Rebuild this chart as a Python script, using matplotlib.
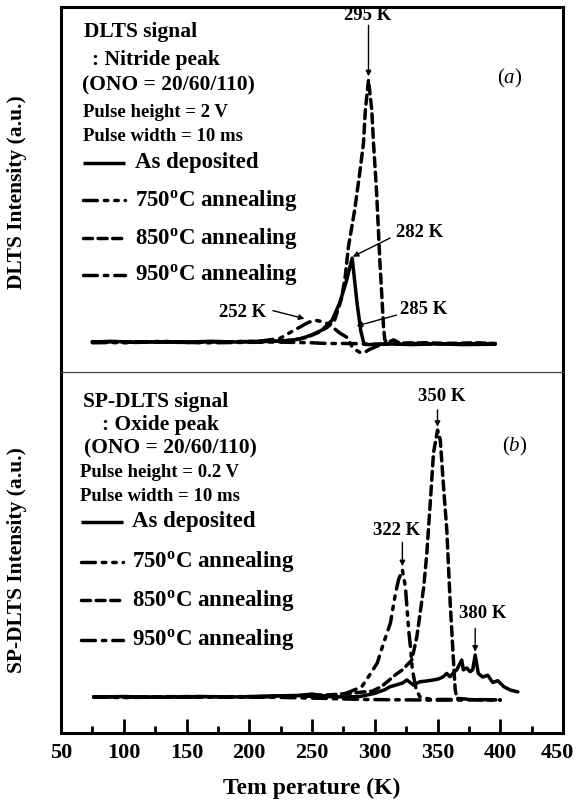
import matplotlib
matplotlib.use("Agg")
import matplotlib.pyplot as plt
import matplotlib.transforms as mtransforms
from matplotlib.ticker import MultipleLocator

plt.rcParams['font.family'] = ['Liberation Serif', 'DejaVu Serif']
plt.rcParams['mathtext.fontset'] = 'custom'
plt.rcParams['mathtext.rm'] = 'Liberation Serif:bold'
plt.rcParams['mathtext.bf'] = 'Liberation Serif:bold'
plt.rcParams['mathtext.it'] = 'Liberation Serif:italic'

# ---------------- (a) DLTS, nitride peak ----------------
t_a_dep = [75, 90, 110, 130, 150, 170, 190, 210, 225, 235, 240, 250, 258, 266, 272, 277, 282,
           286, 289, 291.5, 295, 310, 330, 350, 370, 396]
v_a_dep = [8.2, 8.4, 8.1, 8.3, 8.2, 8.4, 8.2, 8.3, 8.5, 8.8, 9.0, 10.2, 11.5, 14.2, 18.9, 24.4, 31.2,
           18.5, 11.0, 7.6, 7.5, 7.7, 7.5, 7.7, 7.5, 7.6]

t_a_750 = [75, 100, 130, 160, 190, 210, 224.5, 235, 240.4, 246, 252, 258, 262, 266, 272, 278.7,
           281.6, 285, 289, 292, 296, 300, 305, 320, 340, 360, 380, 396]
v_a_750 = [8.3, 8.0, 8.4, 8.1, 8.3, 8.5, 9.2, 11.3, 12.3, 13.4, 14.2, 13.8, 13.3, 12.4, 10.7, 9.3,
           7.1, 6.0, 5.2, 5.4, 6.2, 6.8, 7.5, 7.8, 7.6, 7.8, 7.6, 7.7]

t_a_850 = [75, 110, 150, 190, 230, 245, 255, 262, 268, 273.4, 276.4, 279, 284, 288, 291, 292.5, 295,
           297.6, 299, 301.5, 304, 305.5, 307, 308, 310, 315, 320, 340, 360, 380, 396]
v_a_850 = [8.2, 8.3, 8.1, 8.3, 8.5, 9.4, 10.8, 12.2, 14.2, 20.0, 26.0, 34.3, 44.4, 54.5, 62.7, 71.8, 80.0,
           71.8, 62.7, 49.0, 30.7, 21.6, 12.3, 8.8, 8.0, 8.8, 7.9, 8.0, 7.8, 8.0, 7.8]

t_a_950 = [75, 120, 170, 220, 250, 262, 280, 300, 330, 360, 396]
v_a_950 = [8.0, 8.2, 8.0, 8.2, 8.0, 7.8, 7.8, 7.6, 7.8, 7.7, 7.8]

# ---------------- (b) SP-DLTS, oxide peak ----------------
t_b_dep = [76, 100, 130, 160, 190, 220, 240, 250, 255, 262, 275, 288, 300, 308, 312, 316, 322.5,
           325.5, 330.7, 336, 341, 346.7, 351, 354.6, 357.3, 360, 363, 365.3, 369.3, 370.6, 373.3,
           376, 378, 380, 382.5, 386, 390, 394, 398, 403, 408, 414]
v_b_dep = [10.0, 10.1, 9.9, 10.1, 10.0, 10.3, 10.4, 10.8, 10.5, 10.1, 10.0, 10.1, 11.0, 12.0, 12.8,
           13.2, 13.9, 14.7, 13.3, 14.2, 14.4, 14.7, 15.0, 15.6, 16.5, 15.6, 16.8, 17.5, 20.2, 17.5,
           18.0, 17.0, 17.5, 21.6, 16.5, 15.5, 16.0, 14.0, 14.5, 12.8, 11.9, 11.4]

t_b_750 = [76, 100, 130, 160, 190, 220, 250, 260, 270, 280, 289.6, 295, 302, 307, 312.5, 316.5,
           319, 322, 324.4, 325.8, 327, 328.4, 329.7, 331, 333, 336, 345, 370, 400]
v_b_750 = [10.0, 9.8, 10.0, 9.9, 10.1, 10.0, 10.2, 10.3, 10.1, 11.4, 12.8, 15.6, 19.4, 24.9, 30.5,
           38.7, 42.5, 45.2, 40.5, 34.1, 28.5, 23.9, 18.4, 15.6, 12.0, 10.0, 9.3, 9.3, 9.2]

t_b_850 = [76, 110, 150, 200, 240, 265, 283, 298, 305, 310, 316, 322, 329.5, 333.5, 339, 341.5,
           344.2, 346.8, 350, 352.2, 354.8, 357.4, 360.1, 362.8, 364.1, 365.5, 380, 400]
v_b_850 = [10.0, 10.0, 10.1, 10.0, 10.4, 10.6, 11.1, 11.6, 12.8, 14.2, 16.0, 17.5, 20.2, 26.6,
           40.4, 49.9, 63.7, 77.6, 83.9, 81.2, 68.2, 56.2, 36.0, 19.4, 11.9, 9.6, 9.2, 9.2]

t_b_950 = [76, 120, 170, 220, 260, 290, 320, 350, 380, 400]
v_b_950 = [10.0, 9.9, 10.0, 9.9, 9.6, 9.3, 9.2, 9.1, 9.2, 9.1]

x_ticks = [50, 100, 150, 200, 250, 300, 350, 400, 450]

labels = ['As deposited', '750$^{\\mathrm{o}}$C annealing',
          '850$^{\\mathrm{o}}$C annealing', '950$^{\\mathrm{o}}$C annealing']
styles = ['-', (0, (4, 2, 1, 2, 1, 2)), (0, (2.6, 1.6)), (0, (4, 2, 1, 2))]
LW = 2.5

fig = plt.figure(figsize=(5.79, 8.02), dpi=100)
ax_a = fig.add_axes([0.1054, 0.5362, 0.8670, 0.4551])
ax_b = fig.add_axes([0.1054, 0.0860, 0.8670, 0.4502])

series_a = [(t_a_dep, v_a_dep), (t_a_750, v_a_750), (t_a_850, v_a_850), (t_a_950, v_a_950)]
series_b = [(t_b_dep, v_b_dep), (t_b_750, v_b_750), (t_b_850, v_b_850), (t_b_950, v_b_950)]

for ax, series in ((ax_a, series_a), (ax_b, series_b)):
    for (t, v), ls in zip(series, styles):
        ax.plot(t, v, color='k', lw=LW, ls=ls, solid_capstyle='round',
                dash_capstyle='round', solid_joinstyle='round')
    ax.set_xlim(50, 450)
    ax.set_ylim(0, 100)
    ax.set_yticks([])
    for s in ax.spines.values():
        s.set_linewidth(2.2)

ax_a.set_xticks([])
ax_a.spines['bottom'].set_visible(False)
ax_b.spines['top'].set_linewidth(0.9)
ax_b.spines['top'].set_color('#444444')

ax_b.set_xticks(x_ticks)
ax_b.xaxis.set_minor_locator(MultipleLocator(25))
ax_b.tick_params(axis='x', which='major', direction='in', length=10, width=2, pad=7,
                 labelsize=16, top=False)
ax_b.tick_params(axis='x', which='minor', direction='in', length=5, width=2, top=False)
tick_labels = ax_b.get_xticklabels()
for lab in tick_labels:
    lab.set_fontweight('bold')
# nudge the last label inward so it stays inside the figure
tick_labels[-1].set_transform(tick_labels[-1].get_transform() +
                              mtransforms.ScaledTranslation(-4 / 72, 0, fig.dpi_scale_trans))

ax_b.set_xlabel('Tem perature (K)', fontsize=17, fontweight='bold', labelpad=11)
fig.text(0.030, 1 - 192 / 802, 'DLTS Intensity (a.u.)', rotation=90, ha='center', va='center',
         fontsize=15.5, fontweight='bold')
fig.text(0.030, 1 - 560 / 802, 'SP-DLTS Intensity (a.u.)', rotation=90, ha='center', va='center',
         fontsize=15.5, fontweight='bold')


def header(ax, lines, sizes):
    for (x, y, s), fs in zip(lines, sizes):
        ax.text(x, y, s, transform=ax.transAxes, ha='left', va='center',
                fontsize=fs, fontweight='bold')


def key(ax, x0, x1, xt, ys):
    for y, ls, lab in zip(ys, styles, labels):
        ax.plot([x0, x1], [y, y], transform=ax.transAxes, color='k', lw=LW, ls=ls,
                dash_capstyle='round', solid_capstyle='butt')
        ax.text(xt, y, lab, transform=ax.transAxes, ha='left', va='center',
                fontsize=16.5, fontweight='bold')


header(ax_a, [(0.046, 0.932, 'DLTS signal'), (0.062, 0.855, ': Nitride peak'),
              (0.042, 0.786, '(ONO = 20/60/110)'), (0.044, 0.710, 'Pulse height = 2 V'),
              (0.044, 0.645, 'Pulse width = 10 ms')], [15.5, 15.5, 15.5, 13.5, 13.5])
key(ax_a, 0.043, 0.127, 0.147, [0.573, 0.471, 0.367, 0.266])

header(ax_b, [(0.044, 0.918, 'SP-DLTS signal'), (0.082, 0.853, ': Oxide peak'),
              (0.046, 0.789, '(ONO = 20/60/110)'), (0.037, 0.721, 'Pulse height = 0.2 V'),
              (0.037, 0.655, 'Pulse width = 10 ms')], [15.5, 15.5, 15.5, 13.5, 13.5])
key(ax_b, 0.039, 0.124, 0.141, [0.585, 0.474, 0.368, 0.258])

ax_a.text(0.894, 0.805, '($\\mathit{a}$)', transform=ax_a.transAxes, ha='center', va='center',
          fontsize=15)
ax_b.text(0.904, 0.793, '($\\mathit{b}$)', transform=ax_b.transAxes, ha='center', va='center',
          fontsize=15)

arrow = dict(arrowstyle='-|>', color='k', lw=1.0, mutation_scale=8, shrinkA=0, shrinkB=0)


def mark(ax, text, txy, tail, tip):
    ax.text(txy[0], txy[1], text, ha='center', va='center', fontsize=13.5, fontweight='bold')
    ax.annotate('', xy=tip, xytext=tail, arrowprops=arrow)


mark(ax_a, '295 K', (294.6, 97.6), (295, 95.0), (295, 81.0))
mark(ax_a, '282 K', (335.5, 38.1), (312.2, 36.7), (282.5, 31.6))
mark(ax_a, '285 K', (338.6, 17.0), (317.5, 15.6), (285.5, 12.6))
mark(ax_a, '252 K', (195.0, 16.4), (218.9, 16.8), (244.0, 14.6))

mark(ax_b, '350 K', (353.3, 93.2), (350, 89.5), (350, 84.8))
mark(ax_b, '322 K', (317.5, 56.2), (322, 52.8), (322, 46.2))
mark(ax_b, '380 K', (386.0, 33.2), (380, 29.0), (380, 22.5))

fig.savefig('out.png', dpi=100)
